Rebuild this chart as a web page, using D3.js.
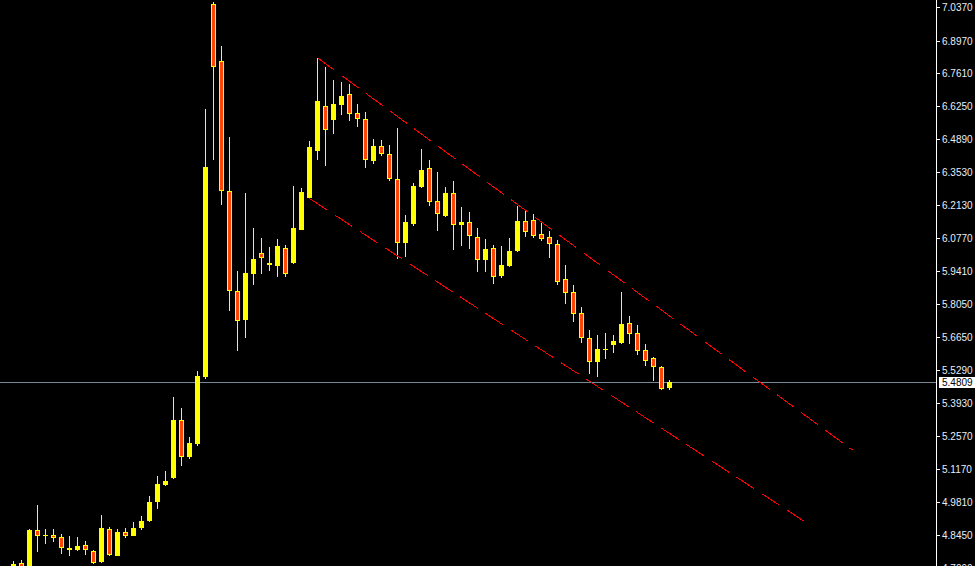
<!DOCTYPE html>
<html>
<head>
<meta charset="utf-8">
<script src="https://cdn.jsdelivr.net/npm/d3@7"></script>
<style>
  html, body { margin: 0; padding: 0; background: #000; overflow: hidden; }
  svg { display: block; }
</style>
</head>
<body>
<svg id="chart" width="975" height="566"></svg>
<script>
// ---- data ----
const categories = d3.range(83); // bar index, oldest -> newest

const open = [4.679,4.729,4.658,4.866,4.848,4.849,4.837,4.795,4.783,4.804,
4.779,4.734,4.874,4.759,4.858,4.845,4.875,4.904,4.983,5.053,
5.082,5.323,5.169,5.223,5.505,7.050,6.813,6.277,5.862,5.738,
5.929,6.016,5.978,5.962,6.037,5.978,6.115,6.248,6.443,6.626,
6.568,6.634,6.676,6.597,6.576,6.399,6.460,6.427,6.326,6.059,
6.137,6.291,6.369,6.232,6.171,6.265,6.133,6.145,6.086,5.988,
6.037,5.922,5.962,6.025,6.149,6.153,6.095,6.086,6.057,5.908,
5.854,5.767,5.667,5.565,5.620,5.635,5.646,5.729,5.684,5.617,
5.580,5.545,5.457];

const high = [4.741,4.745,4.874,4.970,4.874,4.870,4.853,4.841,4.837,4.824,
4.783,4.932,4.882,4.874,4.878,4.903,4.924,5.011,5.090,5.111,
5.418,5.376,5.252,5.526,6.614,7.058,6.879,6.501,5.945,6.265,
6.120,6.078,6.041,6.074,6.053,6.298,6.286,6.481,6.828,6.788,
6.734,6.726,6.721,6.638,6.605,6.493,6.489,6.468,6.535,6.174,
6.310,6.448,6.402,6.356,6.290,6.315,6.207,6.186,6.120,6.074,
6.053,6.045,6.078,6.211,6.194,6.178,6.145,6.109,6.070,5.970,
5.887,5.792,5.700,5.676,5.684,5.676,5.854,5.758,5.717,5.642,
5.584,5.549,5.489];

const low = [4.667,4.687,4.650,4.775,4.808,4.816,4.768,4.759,4.779,4.762,
4.726,4.730,4.758,4.759,4.836,4.841,4.867,4.900,4.953,5.049,
5.078,5.132,5.161,5.215,5.493,6.402,6.219,5.776,5.613,5.667,
5.887,5.929,5.945,5.920,5.920,5.974,6.113,6.242,6.402,6.381,
6.510,6.589,6.564,6.539,6.370,6.386,6.420,6.315,5.992,6.000,
6.129,6.287,6.212,6.108,6.169,6.030,6.046,6.034,5.938,5.938,
5.888,5.913,5.958,6.023,6.083,6.079,6.067,5.996,5.884,5.805,
5.731,5.644,5.515,5.501,5.577,5.601,5.642,5.639,5.594,5.548,
5.486,5.447,5.451];

const close = [4.725,4.700,4.866,4.841,4.849,4.834,4.792,4.784,4.801,4.784,
4.730,4.878,4.762,4.858,4.842,4.875,4.907,4.986,5.057,5.073,
5.323,5.170,5.227,5.509,6.374,6.789,6.274,5.859,5.735,5.933,
5.991,5.995,5.966,6.045,5.929,6.120,6.269,6.456,6.647,6.528,
6.638,6.668,6.594,6.573,6.403,6.460,6.428,6.323,6.059,6.145,
6.294,6.364,6.229,6.179,6.265,6.133,6.145,6.088,5.988,6.034,
5.917,5.966,6.028,6.149,6.104,6.088,6.075,6.054,5.897,5.851,
5.764,5.665,5.565,5.621,5.621,5.651,5.721,5.681,5.610,5.571,
5.544,5.453,5.4809];

const tickValues = [7.037,6.897,6.761,6.625,6.489,6.353,6.213,6.077,5.941,
5.805,5.665,5.529,5.393,5.257,5.117,4.981,4.845,4.709];
const tickLabels = tickValues.map(v => v.toFixed(4));

const bidPrice = 5.4809;
const bidLabel = "5.4809";

// channel lines: [bar index, price]
const upperChannel = [[38, 6.828], [104.9, 5.199]];
const lowerChannel = [[37, 6.244], [99.2, 4.896]];

// ---- scales ----
const W = 975, H = 566;
const axisX = 936.5;
const x = d3.scaleLinear().domain([0, 1]).range([13.5, 21.5]);
const y = d3.scaleLinear().domain([4.845, 7.037]).range([535.5, 7.5]);

const UP = "#ffff00", DOWN = "#ff4500";

const svg = d3.select("#chart");
svg.append("rect").attr("width", W).attr("height", H).attr("fill", "#000");

const plot = svg.append("g").attr("shape-rendering", "crispEdges");

// bid line
const bidY = Math.floor(y(bidPrice)) + 0.5;
plot.append("line")
  .attr("x1", 0).attr("x2", axisX).attr("y1", bidY).attr("y2", bidY)
  .attr("stroke", "#778899").attr("stroke-width", 1);

// candles
const bars = categories.map(i => ({i, o: open[i], h: high[i], l: low[i], c: close[i]}));
const g = plot.append("g");
bars.forEach(d => {
  const cx = x(d.i);
  const yh = Math.round(y(d.h)), yl = Math.round(y(d.l));
  g.append("rect")
    .attr("x", cx - 0.5).attr("y", yh)
    .attr("width", 1).attr("height", Math.max(1, yl - yh))
    .attr("fill", UP);
  const top = Math.round(y(Math.max(d.o, d.c)));
  const bot = Math.round(y(Math.min(d.o, d.c)));
  if (d.c >= d.o) {
    g.append("rect")
      .attr("x", cx - 2.5).attr("y", top)
      .attr("width", 5).attr("height", Math.max(1, bot - top))
      .attr("fill", UP);
  } else {
    const hgt = bot - top;
    if (hgt <= 2) {
      g.append("rect").attr("x", cx - 2.5).attr("y", top)
        .attr("width", 5).attr("height", Math.max(1, hgt)).attr("fill", UP);
    } else {
      g.append("rect")
        .attr("x", cx - 2).attr("y", top + 0.5)
        .attr("width", 4).attr("height", hgt - 1)
        .attr("fill", DOWN).attr("stroke", UP).attr("stroke-width", 1);
    }
  }
});

// channel lines
const line = d3.line().x(p => x(p[0])).y(p => y(p[1]));
[upperChannel, lowerChannel].forEach(ch => {
  plot.append("path")
    .attr("d", line(ch))
    .attr("fill", "none")
    .attr("stroke", "#ff0000")
    .attr("stroke-width", 1)
    .attr("stroke-dasharray", "21,9");
});

// right price axis
const ax = svg.append("g").attr("shape-rendering", "crispEdges");
ax.append("line").attr("x1", axisX).attr("x2", axisX).attr("y1", 0).attr("y2", H)
  .attr("stroke", "#ffffff").attr("stroke-width", 1);

tickValues.forEach((v, k) => {
  const ty = Math.floor(y(v)) + 0.5;
  ax.append("line").attr("x1", axisX).attr("x2", axisX + 3).attr("y1", ty).attr("y2", ty)
    .attr("stroke", "#ffffff");
  svg.append("text")
    .attr("x", 942).attr("y", ty).attr("dy", "0.36em")
    .attr("font-family", "'Liberation Sans', Arial, sans-serif")
    .attr("font-size", "10px")
    .attr("fill", "#e6eefa")
    .text(tickLabels[k]);
});

// bid label box
svg.append("rect")
  .attr("x", 939).attr("y", bidY - 5.5).attr("width", 36).attr("height", 11)
  .attr("fill", "#ffffff");
svg.append("text")
  .attr("x", 942).attr("y", bidY).attr("dy", "0.36em")
  .attr("font-family", "'Liberation Sans', Arial, sans-serif")
  .attr("font-size", "10px")
  .attr("fill", "#000000")
  .text(bidLabel);
</script>
</body>
</html>
